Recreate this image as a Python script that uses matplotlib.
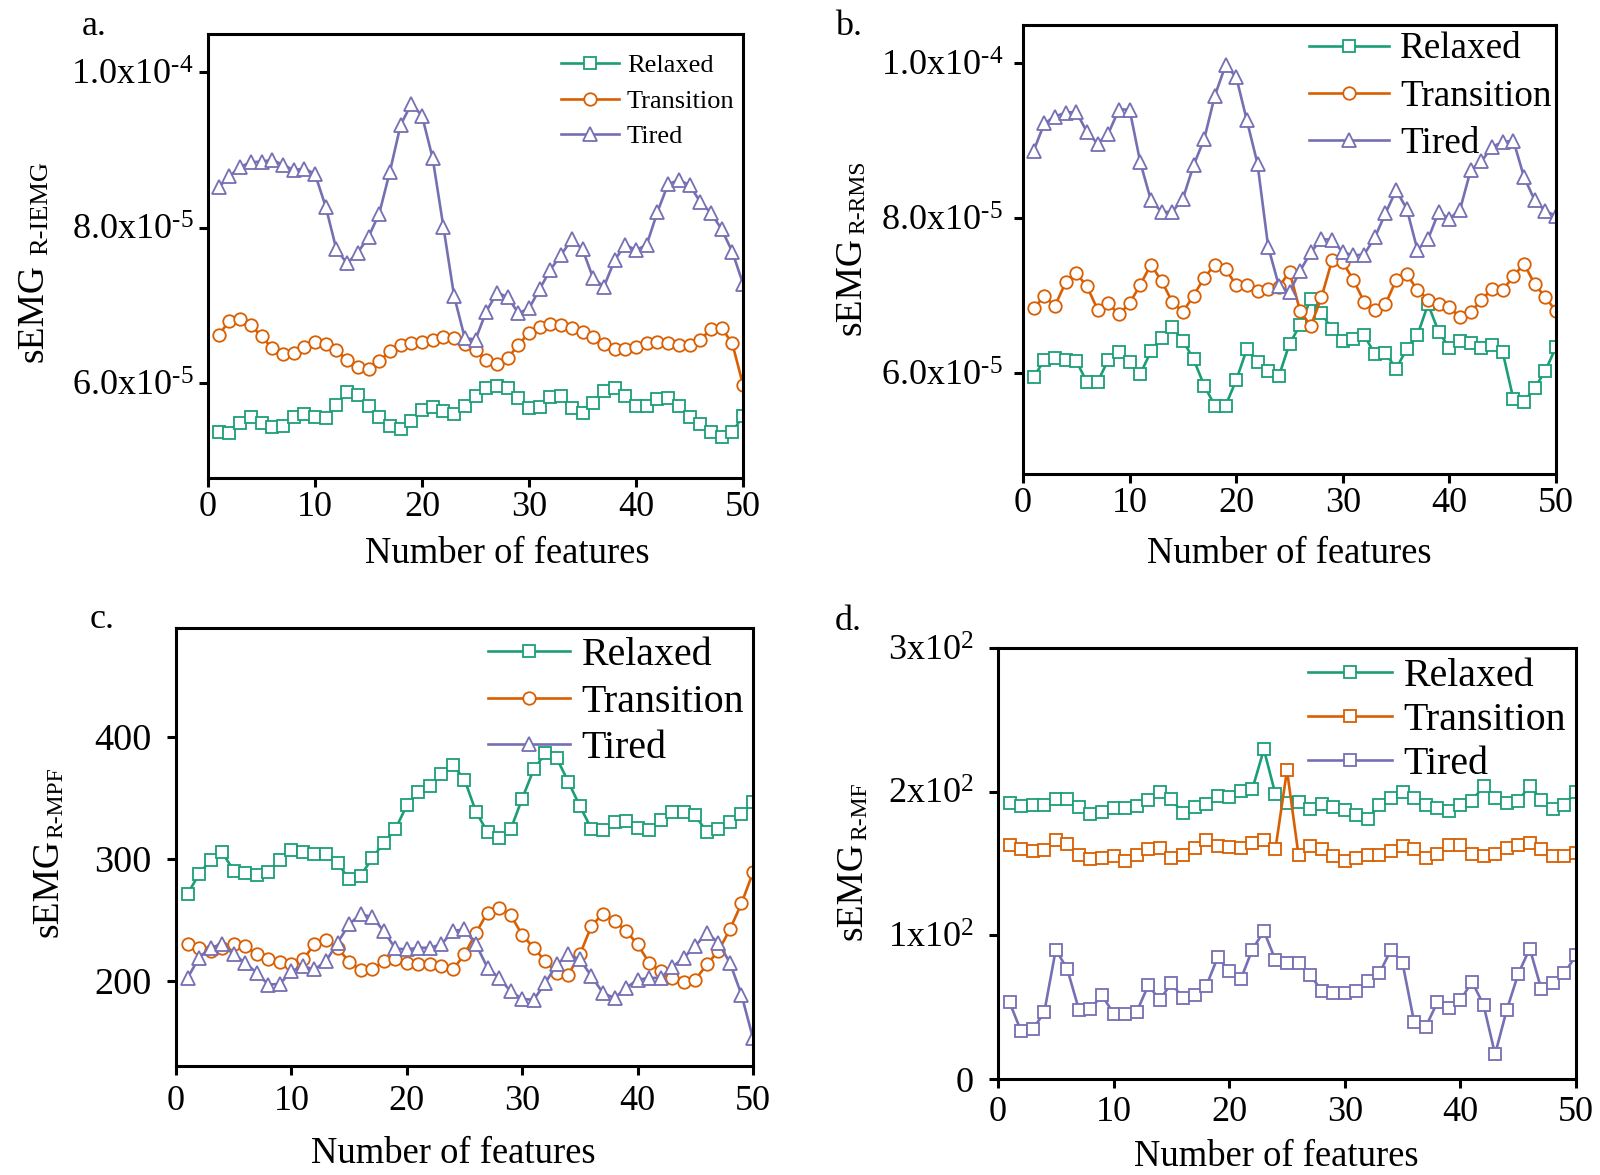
import numpy as np
import matplotlib
matplotlib.use('Agg')
import matplotlib.pyplot as plt

plt.rcParams['font.family'] = ['Liberation Serif', 'DejaVu Serif']
plt.rcParams['mathtext.fontset'] = 'custom'
plt.rcParams['mathtext.rm'] = 'Liberation Serif'
plt.rcParams['mathtext.it'] = 'Liberation Serif:italic'
plt.rcParams['mathtext.bf'] = 'Liberation Serif:bold'

features = np.arange(1, 51)
series_names = ['Relaxed', 'Transition', 'Tired']
colors = {'Relaxed': '#1b9e77', 'Transition': '#d95f02', 'Tired': '#7570b3'}

# panel a: sEMG R-IEMG (x1e-5)
iemg_relaxed = [5.37, 5.36, 5.49, 5.57, 5.49, 5.44, 5.45, 5.57, 5.60, 5.56,
                5.55, 5.72, 5.88, 5.85, 5.70, 5.57, 5.45, 5.41, 5.51, 5.66,
                5.69, 5.64, 5.60, 5.70, 5.84, 5.94, 5.96, 5.94, 5.81, 5.68,
                5.69, 5.82, 5.83, 5.68, 5.61, 5.74, 5.90, 5.94, 5.83, 5.70,
                5.70, 5.79, 5.81, 5.70, 5.57, 5.47, 5.37, 5.31, 5.37, 5.58]
iemg_transition = [6.62, 6.80, 6.83, 6.75, 6.60, 6.45, 6.37, 6.39, 6.46, 6.53,
                   6.50, 6.42, 6.30, 6.21, 6.18, 6.28, 6.41, 6.49, 6.51, 6.53,
                   6.56, 6.59, 6.58, 6.50, 6.42, 6.30, 6.24, 6.32, 6.49, 6.65,
                   6.72, 6.76, 6.75, 6.71, 6.66, 6.59, 6.50, 6.44, 6.44, 6.47,
                   6.51, 6.53, 6.51, 6.49, 6.49, 6.56, 6.69, 6.71, 6.51, 5.98]
iemg_tired = [8.52, 8.66, 8.78, 8.84, 8.85, 8.87, 8.81, 8.74, 8.76, 8.69,
              8.27, 7.72, 7.54, 7.68, 7.88, 8.18, 8.72, 9.32, 9.59, 9.44,
              8.89, 8.01, 7.12, 6.58, 6.56, 6.92, 7.16, 7.11, 6.90, 6.96,
              7.21, 7.46, 7.65, 7.85, 7.72, 7.35, 7.24, 7.58, 7.78, 7.71,
              7.78, 8.20, 8.56, 8.61, 8.55, 8.33, 8.19, 7.98, 7.69, 7.28]

# panel b: sEMG R-RMS (x1e-5)
rms_relaxed = [5.95, 6.17, 6.20, 6.17, 6.16, 5.88, 5.89, 6.17, 6.27, 6.15,
               5.99, 6.28, 6.46, 6.60, 6.42, 6.18, 5.84, 5.58, 5.58, 5.91,
               6.31, 6.14, 6.03, 5.96, 6.38, 6.62, 6.96, 6.77, 6.57, 6.42,
               6.44, 6.49, 6.25, 6.26, 6.06, 6.31, 6.49, 6.89, 6.53, 6.33,
               6.42, 6.39, 6.33, 6.36, 6.27, 5.67, 5.63, 5.81, 6.03, 6.34]
rms_transition = [6.84, 6.99, 6.87, 7.17, 7.29, 7.12, 6.82, 6.90, 6.76, 6.90,
                  7.14, 7.40, 7.19, 6.92, 6.79, 7.00, 7.23, 7.40, 7.34, 7.14,
                  7.14, 7.06, 7.09, 7.11, 7.31, 6.80, 6.61, 6.98, 7.46, 7.43,
                  7.20, 6.92, 6.81, 6.89, 7.20, 7.28, 7.07, 6.95, 6.89, 6.85,
                  6.72, 6.79, 6.94, 7.09, 7.07, 7.25, 7.41, 7.15, 6.98, 6.80]
rms_tired = [8.87, 9.22, 9.31, 9.36, 9.37, 9.11, 8.96, 9.09, 9.40, 9.40,
             8.72, 8.23, 8.08, 8.08, 8.25, 8.68, 9.02, 9.58, 9.97, 9.82,
             9.26, 8.70, 7.63, 7.13, 7.05, 7.32, 7.56, 7.73, 7.72, 7.56,
             7.52, 7.53, 7.75, 8.06, 8.36, 8.12, 7.59, 7.73, 8.08, 7.99,
             8.11, 8.62, 8.73, 8.92, 8.98, 9.00, 8.53, 8.23, 8.09, 8.03]

# panel c: sEMG R-MPF
mpf_relaxed = [270.9, 287.4, 298.9, 305.2, 290.1, 287.9, 286.8, 289.3, 298.9, 307.4,
               305.2, 303.8, 303.8, 296.4, 283.2, 286.0, 300.3, 312.9, 323.9, 343.7,
               354.7, 359.3, 369.0, 376.6, 364.8, 338.2, 321.7, 317.0, 323.9, 349.2,
               373.1, 386.3, 382.1, 362.9, 342.9, 324.5, 323.1, 330.0, 330.5, 325.3,
               323.1, 331.3, 338.2, 338.2, 335.4, 321.7, 324.5, 330.0, 336.8, 346.4]
mpf_transition = [229.7, 226.9, 224.2, 226.9, 229.7, 228.3, 221.4, 217.3, 215.4, 213.2,
                  217.3, 229.7, 233.0, 226.9, 215.4, 208.5, 209.1, 215.9, 217.3, 214.6,
                  214.0, 213.2, 211.8, 209.1, 221.4, 239.3, 255.8, 259.1, 253.8, 237.4,
                  226.9, 215.9, 206.3, 204.9, 221.4, 244.8, 254.9, 248.9, 240.7, 229.7,
                  214.6, 207.7, 202.2, 198.6, 200.8, 213.2, 224.2, 242.0, 263.2, 288.7]
mpf_tired = [202.2, 218.7, 226.9, 229.7, 221.4, 214.6, 206.3, 196.7, 197.3, 207.7,
             211.8, 209.1, 215.9, 231.0, 246.2, 254.4, 252.2, 240.7, 226.4, 225.5,
             226.9, 226.9, 229.7, 240.7, 242.0, 229.7, 210.4, 202.2, 191.2, 184.9,
             184.3, 198.1, 213.2, 221.4, 217.3, 203.6, 189.8, 185.7, 194.0, 200.8,
             202.2, 202.2, 211.0, 218.7, 228.3, 239.3, 231.0, 214.6, 188.5, 152.7]

# panel d: sEMG R-MF
mf_relaxed = [192.0, 189.7, 190.8, 190.8, 194.9, 194.7, 189.2, 184.4, 185.7, 188.5,
              188.5, 189.7, 194.3, 199.5, 194.7, 185.1, 189.2, 191.5, 197.2, 196.6,
              200.7, 201.8, 229.4, 198.2, 192.0, 193.1, 188.0, 191.3, 189.0, 187.4,
              183.9, 181.1, 190.8, 195.4, 200.0, 195.4, 190.8, 188.5, 186.7, 190.8,
              193.6, 203.9, 195.4, 192.0, 193.6, 204.1, 194.3, 188.0, 190.8, 200.0]
mf_transition = [163.2, 159.8, 158.6, 159.3, 166.7, 163.9, 155.9, 152.9, 154.0, 155.2,
                 151.7, 155.6, 159.8, 160.9, 153.6, 155.6, 160.5, 166.2, 162.1, 161.4,
                 160.9, 164.4, 166.2, 160.2, 214.9, 155.6, 162.1, 159.8, 155.2, 151.7,
                 154.0, 155.6, 155.6, 158.6, 162.1, 159.8, 153.6, 156.3, 163.2, 163.2,
                 156.3, 155.2, 156.3, 160.5, 162.8, 164.4, 159.8, 155.2, 155.2, 157.5]
mf_tired = [53.3, 33.3, 34.5, 46.4, 90.1, 76.3, 48.3, 49.0, 58.2, 45.5,
            45.5, 46.9, 65.1, 55.2, 66.7, 56.3, 58.2, 64.4, 84.6, 75.4,
            69.4, 90.1, 103.0, 82.8, 80.5, 80.5, 72.4, 61.6, 60.2, 60.2,
            61.6, 68.5, 73.6, 90.1, 80.5, 39.5, 36.3, 53.3, 49.4, 54.7,
            67.8, 51.7, 17.2, 47.8, 73.1, 90.8, 62.5, 67.1, 73.6, 86.2]

xticks = [0, 10, 20, 30, 40, 50]
yticks_a = [6e-5, 8e-5, 1e-4]
yticklabels_a = [r'6.0x10$^{\text{-5}}$', r'8.0x10$^{\text{-5}}$', r'1.0x10$^{\text{-4}}$']
yticks_b = [6e-5, 8e-5, 1e-4]
yticklabels_b = [r'6.0x10$^{\text{-5}}$', r'8.0x10$^{\text{-5}}$', r'1.0x10$^{\text{-4}}$']
yticks_c = [200, 300, 400]
yticklabels_c = ['200', '300', '400']
yticks_d = [0, 100, 200, 300]
yticklabels_d = ['0', r'1x10$^{2}$', r'2x10$^{2}$', r'3x10$^{2}$']

W, H = 1600, 1175
fig = plt.figure(figsize=(16, 11.75), dpi=100)


def px_axes(l, t, r, b):
    return fig.add_axes([l / W, 1 - b / H, (r - l) / W, (b - t) / H])


def fig_xy(x, y):
    return x / W, 1 - y / H


panels = [
    dict(box=(208, 34, 743, 478), data=(iemg_relaxed, iemg_transition, iemg_tired), scale=1e-5,
         markers=('s', 'o', '^'), ylim=(4.78e-5, 1.049e-4), yticks=yticks_a, ylabels=yticklabels_a,
         ytick_fs=26, ypad=4, xpad=3, letter='a.', letter_xy=(82, 35),
         ylab_main=(43, 362), ylab_sub=(47, 255), sub='R-IEMG', sub_fs=19,
         xlabel_xy=(507, 563), leg_fs=19, leg_xy=(561, 54), leg_sp=0.45, leg_hl=2.2),
    dict(box=(1023, 25, 1556, 474), data=(rms_relaxed, rms_transition, rms_tired), scale=1e-5,
         markers=('s', 'o', '^'), ylim=(4.70e-5, 1.049e-4), yticks=yticks_b, ylabels=yticklabels_b,
         ytick_fs=26, ypad=8, xpad=3, letter='b.', letter_xy=(835, 35),
         ylab_main=(860, 335), ylab_sub=(864, 234), sub='R-RMS', sub_fs=17,
         xlabel_xy=(1289, 563), leg_fs=26.7, leg_xy=(1309, 32), leg_sp=0.35, leg_hl=2.15),
    dict(box=(176, 628, 753, 1066), data=(mpf_relaxed, mpf_transition, mpf_tired), scale=1,
         markers=('s', 'o', '^'), ylim=(130, 489), yticks=yticks_c, ylabels=yticklabels_c,
         ytick_fs=27.5, ypad=11, xpad=7, letter='c.', letter_xy=(90, 628),
         ylab_main=(58, 937), ylab_sub=(62, 838), sub='R-MPF', sub_fs=17,
         xlabel_xy=(453, 1163), leg_fs=28.7, leg_xy=(488, 637), leg_sp=0.24, leg_hl=2.05),
    dict(box=(998, 648, 1576, 1079), data=(mf_relaxed, mf_transition, mf_tired), scale=1,
         markers=('s', 's', 's'), ylim=(0, 300), yticks=yticks_d, ylabels=yticklabels_d,
         ytick_fs=26, ypad=11, xpad=6, letter='d.', letter_xy=(835, 630),
         ylab_main=(862, 940), ylab_sub=(866, 840), sub='R-MF', sub_fs=17,
         xlabel_xy=(1276, 1166), leg_fs=28.7, leg_xy=(1308, 658), leg_sp=0.17, leg_hl=2.1),
]

for p in panels:
    ax = px_axes(*p['box'])
    for name, vals, mk in zip(series_names, p['data'], p['markers']):
        ax.plot(features, np.array(vals) * p['scale'], color=colors[name], lw=1.9,
                marker=mk, markersize=10 if mk == '^' else 9, markerfacecolor='white',
                markeredgecolor=colors[name], markeredgewidth=1.3, label=name)
    ax.set_xlim(0, 50)
    ax.set_ylim(*p['ylim'])
    ax.set_xticks(xticks)
    ax.set_yticks(p['yticks'])
    ax.set_yticklabels(p['ylabels'])
    ax.tick_params(axis='both', direction='out', length=6.5, width=2.2)
    ax.tick_params(axis='x', labelsize=26, pad=p['xpad'])
    ax.tick_params(axis='y', labelsize=p['ytick_fs'], pad=p['ypad'])
    for s in ax.spines.values():
        s.set_linewidth(2.2)
    ax.legend(loc='upper left', bbox_to_anchor=fig_xy(*p['leg_xy']),
              bbox_transform=fig.transFigure, frameon=False, fontsize=p['leg_fs'],
              borderpad=0, borderaxespad=0, handlelength=p['leg_hl'],
              handletextpad=0.3, labelspacing=p['leg_sp'])
    fig.text(*fig_xy(*p['letter_xy']), p['letter'], fontsize=26, ha='left', va='baseline')
    # y label: "sEMG" with a smaller, slightly lowered subscript, both rotated
    fig.text(*fig_xy(*p['ylab_main']), 'sEMG', fontsize=27, rotation=90,
             rotation_mode='anchor', ha='left', va='baseline')
    fig.text(*fig_xy(*p['ylab_sub']), p['sub'], fontsize=p['sub_fs'], rotation=90,
             rotation_mode='anchor', ha='left', va='baseline')
    fig.text(*fig_xy(*p['xlabel_xy']), 'Number of features',
             fontsize=26.4, ha='center', va='baseline')

fig.savefig('out.png', dpi=100)
